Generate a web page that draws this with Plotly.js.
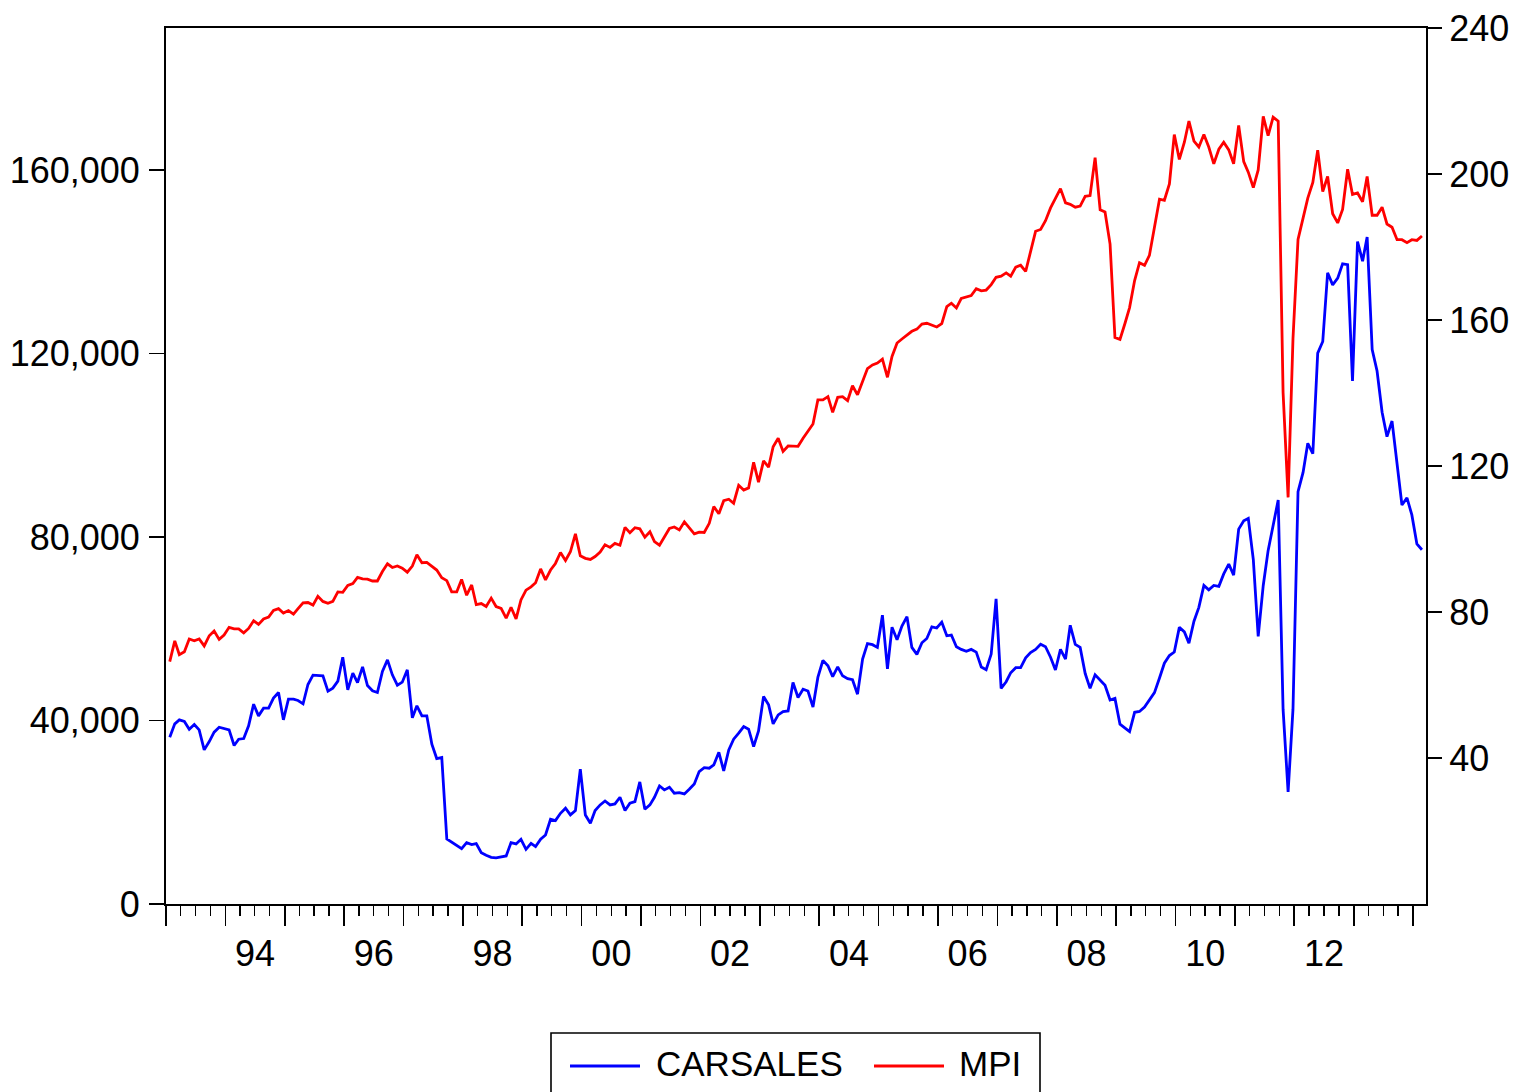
<!DOCTYPE html>
<html>
<head>
<meta charset="utf-8">
<script src="https://cdn.plot.ly/plotly-3.0.1.min.js"></script>
<style>
html,body{margin:0;padding:0;background:#fff;}
#chart{width:1526px;height:1092px;}
</style>
</head>
<body>
<div id="chart"></div>
<script>
// Monthly observations, 1993M01 .. 2014M02
const startYear = 1993;
const startMonth = 1;

const carsales = [
36370,39280,40150,39790,38110,39130,37970,33600,35420,37460,38550,38330,
37970,34550,35930,36080,38840,43570,41020,42700,42700,44880,46110,40150,
44660,44660,44370,43640,47860,49900,49750,49750,46400,47060,48590,53820,
46690,50330,48290,51710,47640,46480,46110,50700,53240,49970,47720,48370,
51060,40590,43200,41020,41020,34840,31710,31930,14180,13530,12870,12070,
13380,12940,13160,11200,10620,10180,10040,10180,10470,13380,13090,14110,
11930,13240,12510,14110,15060,18470,18180,19780,20880,19420,20370,29380,
19420,17600,20370,21600,22470,21600,21820,23270,20370,21960,22330,26620,
20650,21600,23270,25750,24870,25460,24150,24290,24000,25020,26180,28870,
29740,29600,30330,33090,29020,33600,35930,37240,38690,38110,34330,37750,
45240,43420,39280,41240,41970,42110,48290,45020,46840,46430,42950,49400,
53130,51950,49570,51690,49750,49140,48900,45750,53390,56780,56540,55950,
62970,51280,60350,57630,60600,62650,55950,54420,56950,57890,60440,60180,
61450,58480,58650,56100,55510,55100,55510,54920,51690,51100,54490,66550,
47020,48460,50430,51520,51520,53660,54830,55510,56620,56100,53810,51020,
55510,53390,60770,56620,55950,50250,47020,49990,48900,47700,44470,44820,
39200,38290,37600,41790,41980,42960,44620,46080,49290,52500,54160,54940,
60310,59330,56880,61660,64680,69450,68490,69450,69260,71980,74120,71700,
81740,83570,84070,75100,58350,69450,77050,82610,88070,42480,24460,42480,
89920,94110,100440,98190,120100,122650,137640,135000,136460,139580,139390,114070,
144450,140170,145430,120880,116210,107240,101900,105300,96330,87000,88550,84840,
78510,77240
];

const mpi = [
66.4,72.1,68.3,69.1,72.6,72.1,72.6,70.7,73.5,74.8,72.5,73.7,
75.8,75.4,75.4,74.3,75.5,77.6,76.6,78.1,78.6,80.4,80.9,79.7,
80.4,79.4,80.9,82.5,82.6,81.9,84.3,82.9,82.4,82.9,85.5,85.4,
87.3,87.8,89.5,89.1,89.0,88.5,88.5,91.1,93.2,92.2,92.6,92.0,
90.9,92.6,95.7,93.5,93.6,92.4,91.5,89.4,88.6,85.5,85.5,88.9,
84.6,87.4,82.0,82.3,81.5,83.8,81.5,81.0,78.3,81.3,78.1,83.3,
86.0,86.9,88.0,91.8,88.8,91.5,93.3,96.3,94.1,96.5,101.4,95.4,
94.7,94.4,95.2,96.4,98.4,97.7,98.8,98.3,103.2,101.7,103.1,102.8,
100.5,102.0,99.3,98.3,100.5,102.9,103.3,102.5,104.7,103.2,101.4,101.9,
101.8,104.3,108.9,106.9,110.5,110.9,109.8,114.7,113.4,114.0,121.0,115.6,
121.4,119.7,125.3,127.6,124.0,125.5,125.4,125.4,127.6,129.4,131.5,138.1,
138.1,139.0,134.7,138.8,139.0,137.9,142.0,139.5,143.2,146.7,147.7,148.2,
149.3,144.3,150.0,153.7,154.8,155.8,156.9,157.5,158.9,159.1,158.7,158.1,
159.0,163.7,164.6,163.3,165.9,166.3,166.7,168.6,168.0,168.2,169.7,171.7,
172.0,172.9,172.0,174.5,175.0,173.3,179.0,184.3,184.8,187.2,190.7,193.3,
196.0,192.1,191.7,190.9,191.2,193.9,194.1,204.5,190.2,189.6,180.8,155.2,
154.7,159.1,163.4,170.8,175.7,175.0,177.7,185.4,193.1,192.8,197.3,210.8,
204.0,208.7,214.5,209.0,207.4,210.8,207.4,202.8,206.8,208.7,206.6,202.8,
213.3,203.4,200.5,196.3,201.1,215.8,210.5,215.6,214.5,140.2,111.4,154.9,
182.1,187.9,193.4,197.7,206.5,195.2,199.3,189.1,186.6,190.3,201.3,194.4,
194.8,192.4,199.3,188.7,188.7,190.9,186.3,185.4,182.0,182.0,181.2,182.0,
181.8,183.0
];

const leftTicks = [0, 40000, 80000, 120000, 160000];
const rightTicks = [40, 80, 120, 160, 200, 240];
const yearLabelYears = [1994,1996,1998,2000,2002,2004,2006,2008,2010,2012];
const yearLabels = ["94","96","98","00","02","04","06","08","10","12"];

function pad(n){ return (n < 10 ? "0" : "") + n; }
const dates = carsales.map(function(_, i){
  const m = startMonth - 1 + i;
  const y = startYear + Math.floor(m / 12);
  return y + "-" + pad(m % 12 + 1) + "-24";
});

const axisFont = {family: "'Liberation Sans', Arial, sans-serif", size: 36, color: "#000"};
const legendFont = {family: "'Liberation Sans', Arial, sans-serif", size: 35, color: "#000"};

const traces = [
  {x: dates, y: carsales, name: "CARSALES", type: "scatter", mode: "lines",
   line: {color: "#0000ff", width: 2.8}, xaxis: "x", yaxis: "y", showlegend: false},
  {x: dates, y: mpi, name: "MPI", type: "scatter", mode: "lines",
   line: {color: "#ff0000", width: 2.8}, xaxis: "x2", yaxis: "y2", showlegend: false}
];

const xRange = ["1993-01-01", "2014-03-21"];

// plot area in pixels: x 166..1426, y 28..904
function px(x){ return (x - 166) / 1260; }
function py(y){ return (904 - y) / 876; }

const layout = {
  width: 1526, height: 1092,
  margin: {l: 166, r: 100, t: 28, b: 188},
  paper_bgcolor: "#fff", plot_bgcolor: "#fff",
  showlegend: false,
  xaxis: {
    type: "date", range: xRange, showgrid: false, zeroline: false,
    showline: true, linecolor: "#000", linewidth: 2, mirror: true,
    ticks: "outside", tick0: "1993-01-01", dtick: "M12", ticklen: 20, tickwidth: 1.6, tickcolor: "#000",
    showticklabels: false,
    minor: {dtick: "M3", tick0: "1993-01-01", ticks: "outside", ticklen: 10, tickwidth: 1.4, tickcolor: "#000", showgrid: false}
  },
  xaxis2: {
    type: "date", overlaying: "x", anchor: "y2", side: "bottom", range: xRange,
    showgrid: false, zeroline: false, showline: false, ticks: "",
    tickmode: "array",
    tickvals: yearLabelYears.map(function(y){ return y + "-07-02"; }),
    ticktext: yearLabels,
    tickfont: axisFont, ticklabelstandoff: 25
  },
  yaxis: {
    range: [0, 191000], showgrid: false, zeroline: false,
    showline: true, linecolor: "#000", linewidth: 2,
    ticks: "outside", ticklen: 15, tickwidth: 1.6, tickcolor: "#000",
    tickmode: "array", tickvals: leftTicks, tickformat: ",d",
    tickfont: axisFont, ticklabelstandoff: 2
  },
  yaxis2: {
    overlaying: "y", side: "right", anchor: "x2",
    range: [0, 240], showgrid: false, zeroline: false,
    showline: true, linecolor: "#000", linewidth: 2,
    ticks: "outside", ticklen: 14, tickwidth: 1.6, tickcolor: "#000",
    tickmode: "array", tickvals: rightTicks,
    tickfont: axisFont, ticklabelstandoff: 0
  },
  shapes: [
    {type: "rect", xref: "paper", yref: "paper", x0: px(551), x1: px(1040), y0: py(1033), y1: py(1110),
     line: {color: "#000", width: 1.6}, fillcolor: "rgba(0,0,0,0)"},
    {type: "line", xref: "paper", yref: "paper", x0: px(570), x1: px(640), y0: py(1066), y1: py(1066),
     line: {color: "#0000ff", width: 3}},
    {type: "line", xref: "paper", yref: "paper", x0: px(874), x1: px(944), y0: py(1066), y1: py(1066),
     line: {color: "#ff0000", width: 3}}
  ],
  annotations: [
    {xref: "paper", yref: "paper", x: px(654), y: py(1063), xanchor: "left", yanchor: "middle",
     text: "CARSALES", showarrow: false, font: legendFont},
    {xref: "paper", yref: "paper", x: px(957), y: py(1063), xanchor: "left", yanchor: "middle",
     text: "MPI", showarrow: false, font: legendFont}
  ]
};

Plotly.newPlot("chart", traces, layout, {displayModeBar: false, staticPlot: true});
</script>
</body>
</html>
